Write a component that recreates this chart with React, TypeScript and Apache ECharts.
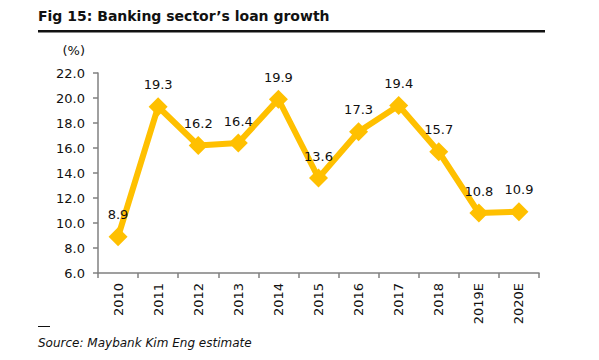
import React, { useEffect, useRef } from "react";
import * as echarts from "echarts";

const categories = ["2010", "2011", "2012", "2013", "2014", "2015", "2016", "2017", "2018", "2019E", "2020E"];
const loanGrowth = [8.9, 19.3, 16.2, 16.4, 19.9, 13.6, 17.3, 19.4, 15.7, 10.8, 10.9];
const titleText = "Fig 15: Banking sector\u2019s loan growth";
const unitText = "(%)";
const sourceText = "Source: Maybank Kim Eng estimate";

const FONT = "'DejaVu Sans', Verdana, sans-serif";

export default function App() {
  const ref = useRef<HTMLDivElement>(null);
  useEffect(() => {
    if (!ref.current) return;
    const chart = echarts.init(ref.current, undefined, { renderer: "svg" });
    chart.setOption({
      animation: false,
      backgroundColor: "#ffffff",
      textStyle: { fontFamily: FONT },
      grid: { left: 98, right: 60, top: 73, bottom: 87 },
      graphic: [
        {
          type: "text",
          left: 38,
          top: 9,
          style: { text: titleText, font: `bold 14px ${FONT}`, fill: "#111" },
        },
        {
          type: "rect",
          shape: { x: 38, y: 30, width: 507, height: 2.5 },
          style: { fill: "#111" },
        },
        {
          type: "text",
          x: 85,
          y: 50,
          style: { text: unitText, font: `13px ${FONT}`, fill: "#111", align: "right", verticalAlign: "middle" },
        },
        {
          type: "rect",
          shape: { x: 38, y: 326, width: 12, height: 1 },
          style: { fill: "#111" },
        },
        {
          type: "text",
          x: 38,
          y: 343,
          style: { text: sourceText, font: `italic 12px ${FONT}`, fill: "#111", verticalAlign: "middle" },
        },
      ],
      xAxis: {
        type: "category",
        data: categories,
        boundaryGap: true,
        axisLine: { lineStyle: { color: "#808080", width: 1.5 } },
        axisTick: { show: true, length: 5, lineStyle: { color: "#808080", width: 1.5 } },
        axisLabel: { rotate: 90, color: "#111", fontSize: 13, margin: 10, fontFamily: FONT },
        splitLine: { show: false },
      },
      yAxis: {
        type: "value",
        min: 6,
        max: 22,
        interval: 2,
        axisLine: { show: true, lineStyle: { color: "#808080", width: 1.5 } },
        axisTick: { show: true, length: 5, lineStyle: { color: "#808080", width: 1.5 } },
        axisLabel: {
          color: "#111",
          fontSize: 13,
          margin: 13,
          fontFamily: FONT,
          formatter: (v: number) => v.toFixed(1),
        },
        splitLine: { show: false },
      },
      series: [
        {
          type: "line",
          data: loanGrowth,
          symbol: "diamond",
          symbolSize: 19,
          lineStyle: { color: "#FFC000", width: 6 },
          itemStyle: { color: "#FFC000" },
          label: {
            show: true,
            position: "top",
            distance: 6,
            color: "#111",
            fontSize: 13,
            fontFamily: FONT,
            formatter: (p: any) => Number(p.value).toFixed(1),
          },
        },
      ],
    });
    return () => chart.dispose();
  }, []);
  return <div ref={ref} style={{ width: 599, height: 360, position: "absolute", left: 0, top: 0 }} />;
}
